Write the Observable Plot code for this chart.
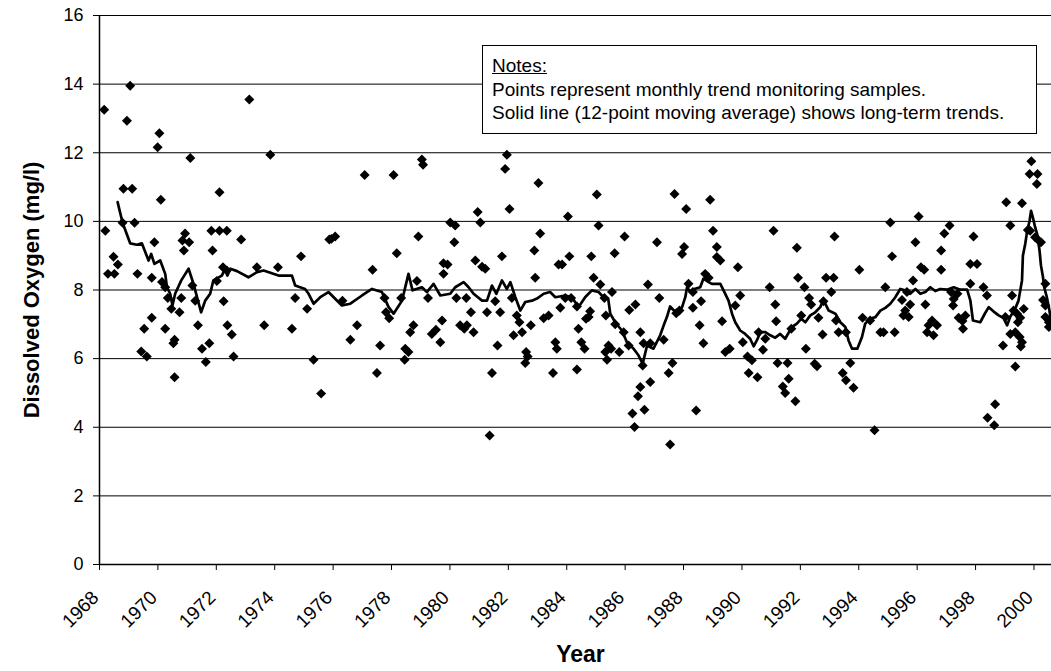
<!DOCTYPE html>
<html>
<head>
<meta charset="utf-8">
<script src="https://cdn.jsdelivr.net/npm/d3@7"></script>
<script src="https://cdn.jsdelivr.net/npm/@observablehq/plot@0.6"></script>
<style>
  html, body { margin: 0; padding: 0; background: #fff; }
  #wrap { position: relative; width: 1051px; height: 671px; font-family: "Liberation Sans", Arial, sans-serif; }
  #notes { position: absolute; left: 482px; top: 45px; width: 553px; height: 87px; border: 1px solid #000; background: #fff;
           box-sizing: content-box; padding: 0; font-size: 19px; line-height: 23.5px; color: #000; }
  #notes div { position: absolute; left: 9px; white-space: nowrap; }
</style>
</head>
<body>
<div id="wrap"></div>
<script>
// Monthly trend monitoring samples: [decimal year, dissolved oxygen mg/l]
const samples = [
[1968.16,13.25],[1969.05,13.95],[1968.94,12.93],[1970.05,12.57],[1969.99,12.16],[1971.11,11.85],[1968.82,10.95],[1969.12,10.95],[1970.10,10.63],[1968.79,9.96],[1969.20,9.96],[1968.20,9.73],[1969.88,9.39],[1970.93,9.65],[1970.84,9.44],[1971.07,9.39],[1970.89,9.15],[1971.83,9.73],[1971.87,9.15],[1968.48,8.97],[1968.63,8.74],[1968.29,8.47],[1968.51,8.47],[1969.30,8.47],[1969.79,8.36],[1970.14,8.23],[1970.25,8.08],[1970.34,7.77],[1970.46,7.45],[1970.80,7.77],[1970.74,7.35],[1971.18,8.13],[1971.28,7.69],[1971.37,6.97],[1969.79,7.19],[1969.53,6.87],[1970.25,6.87],[1970.57,6.55],[1970.53,6.45],[1969.43,6.21],[1969.62,6.06],[1971.51,6.29],[1971.76,6.45],[1971.64,5.90],[1970.57,5.46],
[1973.13,13.55],[1973.85,11.94],[1972.11,10.85],[1972.11,9.73],[1972.36,9.73],[1972.85,9.47],[1972.23,8.66],[1972.36,8.57],[1972.02,8.26],[1973.39,8.66],[1974.11,8.66],[1974.90,8.98],[1975.87,9.47],[1972.25,7.67],[1974.70,7.77],[1975.11,7.45],[1972.38,6.97],[1972.53,6.70],[1973.64,6.97],[1974.59,6.87],[1972.59,6.06],[1975.33,5.97],[1975.59,4.98],
[1977.08,11.35],[1978.07,11.35],[1979.04,11.80],[1979.08,11.65],[1975.94,9.49],[1976.07,9.56],[1978.92,9.56],[1978.18,9.07],[1977.35,8.59],[1978.87,8.26],[1979.78,8.78],[1979.78,8.47],[1976.32,7.69],[1977.76,7.77],[1978.33,7.77],[1979.25,7.77],[1977.81,7.35],[1977.92,7.18],[1976.82,6.97],[1978.75,6.97],[1978.64,6.77],[1979.73,7.11],[1976.59,6.55],[1977.61,6.38],[1979.38,6.72],[1979.52,6.84],[1979.67,6.48],[1978.47,6.29],[1978.58,6.19],[1978.45,5.97],[1977.50,5.58],
[1981.95,11.94],[1981.89,11.53],[1983.03,11.12],[1982.04,10.36],[1980.95,10.27],[1981.04,9.97],[1980.01,9.97],[1980.18,9.88],[1980.15,9.39],[1983.09,9.65],[1982.89,9.15],[1981.78,8.98],[1980.87,8.86],[1981.10,8.68],[1981.21,8.62],[1979.92,8.74],[1982.92,8.36],[1983.72,8.74],[1980.22,7.77],[1980.56,7.77],[1981.55,7.67],[1982.12,7.77],[1980.72,7.35],[1981.27,7.35],[1981.72,7.35],[1982.29,7.26],[1982.38,7.06],[1980.35,6.97],[1980.49,6.87],[1980.58,6.97],[1980.81,6.77],[1982.77,6.97],[1983.21,7.18],[1983.38,7.26],[1982.18,6.68],[1982.47,6.77],[1981.63,6.38],[1983.61,6.48],[1983.66,6.29],[1982.61,6.19],[1982.66,6.06],[1982.58,5.87],[1981.44,5.58],[1983.53,5.58],[1981.36,3.76],
[1985.03,10.78],[1984.04,10.14],[1985.09,9.88],[1985.98,9.56],[1987.09,9.39],[1985.64,9.07],[1984.84,8.98],[1984.09,8.98],[1983.84,8.74],[1987.69,10.80],[1984.92,8.36],[1985.15,8.16],[1986.78,8.16],[1987.17,7.77],[1985.55,7.94],[1985.29,7.77],[1983.95,7.77],[1984.15,7.77],[1984.35,7.52],[1983.78,7.48],[1984.80,7.38],[1984.75,7.21],[1984.66,7.16],[1985.34,7.26],[1986.35,7.58],[1986.14,7.42],[1985.66,7.00],[1985.95,6.77],[1984.40,6.87],[1986.52,6.77],[1984.50,6.48],[1984.61,6.29],[1985.43,6.38],[1985.32,6.19],[1985.52,6.29],[1985.80,6.19],[1986.63,6.45],[1986.86,6.45],[1987.32,6.55],[1985.38,5.97],[1986.12,6.38],[1986.60,5.80],[1987.62,5.87],[1987.49,5.58],[1984.35,5.68],[1986.86,5.32],[1986.52,5.17],[1986.44,4.90],[1986.66,4.51],[1986.25,4.40],[1986.32,4.01],[1987.54,3.50],
[1988.09,10.36],[1988.91,10.63],[1989.01,9.73],[1991.08,9.73],[1988.02,9.25],[1987.95,9.05],[1989.14,9.25],[1989.26,8.86],[1989.14,8.96],[1989.86,8.66],[1988.74,8.47],[1988.86,8.36],[1988.17,8.18],[1988.32,7.94],[1988.60,7.67],[1990.95,8.08],[1989.94,7.84],[1989.77,7.55],[1991.14,7.58],[1987.75,7.32],[1987.86,7.40],[1988.32,7.48],[1989.32,7.09],[1991.17,7.09],[1988.55,6.97],[1988.68,6.45],[1989.43,6.19],[1989.58,6.29],[1990.03,6.48],[1990.57,6.77],[1990.80,6.58],[1990.72,6.26],[1991.22,5.87],[1991.56,5.87],[1990.19,6.06],[1990.34,5.95],[1990.23,5.58],[1990.53,5.46],[1991.40,5.19],[1991.48,5.00],[1991.60,5.41],[1988.43,4.49],
[1995.08,9.97],[1993.17,9.56],[1995.14,8.98],[1991.88,9.23],[1994.02,8.59],[1991.92,8.36],[1992.14,8.08],[1992.88,8.36],[1993.14,8.36],[1993.06,7.94],[1994.91,8.08],[1992.30,7.77],[1992.37,7.58],[1992.79,7.67],[1992.03,7.26],[1992.62,7.19],[1993.22,7.11],[1994.13,7.19],[1994.39,7.11],[1991.69,6.87],[1993.31,6.77],[1993.56,6.77],[1992.76,6.70],[1994.74,6.77],[1994.85,6.77],[1995.23,6.77],[1992.19,6.29],[1992.49,5.85],[1992.57,5.78],[1993.71,5.87],[1993.45,5.58],[1993.56,5.37],[1993.82,5.15],[1991.83,4.76],[1994.54,3.91],[1995.48,7.71],
[1999.05,10.56],[1999.59,10.53],[1996.05,10.14],[1997.11,9.88],[1999.19,9.88],[1996.93,9.65],[1997.93,9.56],[1995.94,9.39],[1996.82,9.15],[1996.13,8.66],[1996.24,8.59],[1996.82,8.59],[1997.82,8.76],[1998.05,8.76],[1995.86,8.28],[1997.82,8.18],[1998.27,8.08],[1998.39,7.84],[1995.65,7.94],[1997.16,7.94],[1997.38,7.89],[1997.25,7.74],[1997.23,7.55],[1995.76,7.58],[1996.28,7.58],[1999.25,7.84],[1995.53,7.26],[1995.71,7.21],[1995.59,7.40],[1997.65,7.26],[1997.42,7.19],[1997.55,7.10],[1996.51,7.11],[1996.68,6.97],[1996.39,6.97],[1996.34,6.77],[1996.56,6.68],[1997.57,6.87],[1999.30,7.40],[1999.42,7.31],[1999.53,7.19],[1999.02,7.21],[1999.19,6.72],[1999.36,6.77],[1999.51,6.63],[1999.59,6.48],[1998.94,6.38],[1999.36,5.77],[1998.67,4.67],[1998.41,4.28],[1998.64,4.06],
[1999.91,11.75],[1999.85,11.38],[2000.12,11.38],[2000.10,11.09],[1999.79,9.75],[1999.87,9.73],[2000.04,9.54],[2000.16,9.44],[2000.24,9.39],[2000.39,8.18],[2000.31,7.71],[2000.39,7.55],[1999.65,7.45],[1999.45,7.06],[2000.39,7.21],[2000.51,7.06],[2000.51,6.92],[1999.55,6.35]
];

// 12-point moving average line as drawn: [decimal year, mg/l]
const trend = [
[1968.62,10.56],[1968.79,9.96],[1969.05,9.36],[1969.28,9.32],[1969.45,9.36],[1969.68,8.86],[1969.77,9.05],[1969.88,8.76],[1970.08,8.86],[1970.25,8.47],[1970.31,8.08],[1970.42,7.89],[1970.50,7.55],[1970.59,7.89],[1970.80,8.28],[1971.05,8.62],[1971.22,8.18],[1971.34,7.79],[1971.48,7.35],[1971.62,7.69],[1971.79,7.89],[1971.90,8.28],
[1972.19,8.42],[1972.30,8.62],[1972.38,8.42],[1972.48,8.62],[1972.71,8.55],[1973.10,8.37],[1973.39,8.52],[1973.62,8.57],[1974.13,8.42],[1974.59,8.42],[1974.70,8.13],[1975.04,8.03],[1975.16,7.89],[1975.33,7.60],[1975.56,7.79],[1975.84,7.94],
[1976.30,7.55],[1976.59,7.60],[1976.99,7.84],[1977.33,8.03],[1977.67,7.94],[1977.90,7.50],[1978.07,7.31],[1978.36,7.69],[1978.58,8.47],[1978.72,7.99],[1979.04,8.08],[1979.21,7.94],[1979.44,8.18],[1979.67,7.84],
[1980.01,7.89],[1980.18,8.08],[1980.47,8.23],[1980.64,8.08],[1980.81,7.89],[1981.10,7.69],[1981.27,7.69],[1981.44,8.13],[1981.59,7.89],[1981.78,8.28],[1981.95,8.03],[1982.07,8.23],[1982.24,7.79],[1982.41,7.40],[1982.58,7.65],[1982.81,7.69],[1982.98,7.75],[1983.21,7.89],[1983.43,7.94],[1983.61,7.79],
[1983.95,7.84],[1984.18,7.79],[1984.40,7.50],[1984.63,7.79],[1984.86,7.99],[1985.09,7.94],[1985.26,7.79],[1985.42,7.75],[1985.49,7.31],[1985.66,7.06],[1985.89,6.82],[1986.06,6.48],[1986.29,6.29],[1986.46,6.09],[1986.60,5.85],[1986.75,6.38],[1986.97,6.29],[1987.20,6.68],[1987.32,6.97],[1987.43,7.21],[1987.54,7.52],
[1987.77,7.31],[1987.95,7.50],[1988.06,7.79],[1988.12,8.08],[1988.23,7.94],[1988.37,8.03],[1988.57,8.08],[1988.68,8.33],[1988.86,8.23],[1988.97,8.18],[1989.26,8.18],[1989.37,7.99],[1989.54,7.69],[1989.66,7.31],[1989.77,7.06],[1989.94,6.82],[1990.11,6.72],[1990.28,6.58],[1990.40,6.36],[1990.51,6.53],[1990.63,6.77],[1990.80,6.77],[1990.97,6.68],[1991.14,6.61],[1991.31,6.72],[1991.48,6.58],
[1991.71,6.92],[1991.88,7.02],[1992.03,7.16],[1992.17,7.06],[1992.34,7.26],[1992.51,7.35],[1992.68,7.50],[1992.79,7.71],[1992.97,7.40],[1993.20,7.31],[1993.37,7.06],[1993.54,6.92],[1993.65,6.53],[1993.77,6.29],[1993.95,6.29],[1994.11,6.63],[1994.22,7.02],[1994.39,7.16],[1994.57,7.21],[1994.74,7.40],[1994.91,7.48],[1995.08,7.60],[1995.25,7.79],[1995.42,8.03],
[1995.59,7.99],[1995.76,7.89],[1995.94,8.03],[1996.11,7.89],[1996.28,7.94],[1996.45,8.08],[1996.62,7.97],[1996.79,8.03],[1997.02,8.01],[1997.25,8.08],[1997.48,8.01],[1997.71,8.01],[1997.82,7.70],[1997.91,7.11],[1998.16,7.06],[1998.33,7.33],[1998.45,7.50],[1998.62,7.37],[1998.79,7.26],[1998.96,7.18],[1999.08,6.97],[1999.19,7.23],[1999.33,7.40],[1999.47,7.69],[1999.59,8.28],[1999.62,9.00],[1999.70,9.34],[1999.76,9.68],[1999.85,10.02],[1999.90,10.31],[1999.96,10.12],[2000.04,9.83],[2000.12,9.59],[2000.19,9.15],[2000.24,8.71],[2000.31,8.37],[2000.35,8.08],[2000.44,7.79],[2000.53,7.40],[2000.58,7.11]
];

const xTicks = [1968,1970,1972,1974,1976,1978,1980,1982,1984,1986,1988,1990,1992,1994,1996,1998,2000];
const yTicks = [0,2,4,6,8,10,12,14,16];
const yTitle = "Dissolved Oxygen (mg/l)";
const xTitle = "Year";
const noteLines = ["Notes:", "Points represent monthly trend monitoring samples.", "Solid line (12-point moving average) shows long-term trends."];

const chart = Plot.plot({
  width: 1051,
  height: 671,
  marginLeft: 99,
  marginRight: 0,
  marginTop: 15,
  marginBottom: 107,
  style: { fontFamily: "'Liberation Sans', Arial, sans-serif", fontSize: "18px", background: "#fff", color: "#000", overflow: "visible" },
  x: { type: "linear", domain: [1968, 2000.6] },
  y: { type: "linear", domain: [0, 16] },
  marks: [
    Plot.gridY({ ticks: yTicks.filter(d => d > 0), stroke: "#000", strokeOpacity: 1, strokeWidth: 1 }),
    Plot.ruleY([0], { stroke: "#000", strokeWidth: 1.5 }),
    Plot.ruleX([1968], { stroke: "#000", strokeWidth: 1.5 }),
    Plot.axisY({ ticks: yTicks, tickSize: 6, tickPadding: 10, fontSize: 18, label: null, tickFormat: d => String(d) }),
    Plot.axisX({ ticks: xTicks, tickSize: 6, label: null, tickFormat: () => "" }),
    Plot.text(xTicks, { x: d => d, text: d => String(d), frameAnchor: "bottom", rotate: -45, textAnchor: "end", lineAnchor: "middle", dx: -4, dy: 30, fontSize: 19 }),
    Plot.text([yTitle], { text: d => d, frameAnchor: "left", textAnchor: "middle", lineAnchor: "middle", dx: -68, rotate: -90, fontWeight: "bold", fontSize: 22 }),
    Plot.text([xTitle], { text: d => d, frameAnchor: "bottom", textAnchor: "middle", dx: 5, dy: 97, fontWeight: "bold", fontSize: 23 }),
    Plot.dot(samples, { x: d => d[0], y: d => d[1], symbol: "diamond2", r: 4.5, fill: "#000", stroke: "none" }),
    Plot.line(trend, { x: d => d[0], y: d => d[1], stroke: "#000", strokeWidth: 2.7, curve: "linear" })
  ]
});

const wrap = document.getElementById("wrap");
wrap.appendChild(chart);
const box = document.createElement("div");
box.id = "notes";
noteLines.forEach((t, i) => {
  const d = document.createElement("div");
  d.textContent = t;
  d.style.top = (8 + i * 23.5) + "px";
  if (i === 0) d.style.textDecoration = "underline";
  box.appendChild(d);
});
wrap.appendChild(box);
</script>
</body>
</html>
